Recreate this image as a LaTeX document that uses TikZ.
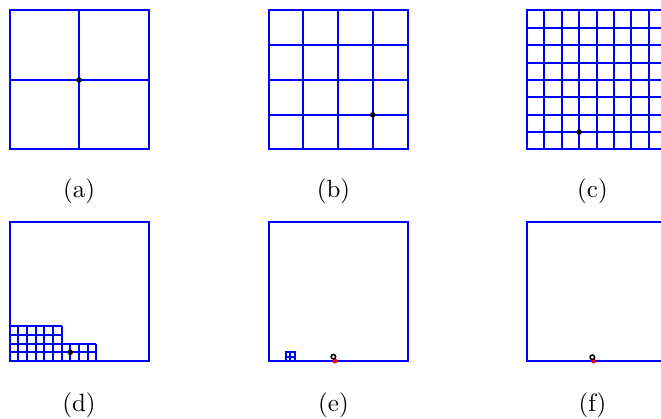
\documentclass[tikz,border=0pt]{standalone}
\usepackage{tikz}
\definecolor{gblue}{RGB}{0,0,255}
\tikzset{
  panel/.style={draw=gblue, line width=0.8pt},
  gridl/.style={draw=gblue, line width=0.8pt},
  pt/.style={fill=black},
  ring/.style={draw=black, line width=0.6pt},
  reddot/.style={fill=red},
  lab/.style={inner sep=0pt, font=\normalsize}
}
\begin{document}
\begin{tikzpicture}[x=0.4pt, y=-0.4pt]
\useasboundingbox (0,0) rectangle (661,419);
\clip (0,0) rectangle (661,419);
% (a)
\begin{scope}[shift={(9.5,149.5)}, x=55.6pt, y=55.6pt]
  \draw[gridl] (0.5,0) -- (0.5,1) (0,0.5) -- (1,0.5);
  \draw[panel] (0,0) rectangle (1,1);
  \fill[pt] (0.5,0.5) circle (1.1pt);
\end{scope}
% (b)
\begin{scope}[shift={(268.5,149.5)}, x=55.6pt, y=55.6pt]
  \foreach \i in {1,2,3} {
    \draw[gridl] (\i/4,0) -- (\i/4,1);
    \draw[gridl] (0,\i/4) -- (1,\i/4);
  }
  \draw[panel] (0,0) rectangle (1,1);
  \fill[pt] (0.75,0.25) circle (1.1pt);
\end{scope}
% (c)
\begin{scope}[shift={(527,149.5)}, x=55.6pt, y=55.6pt]
  \foreach \i in {1,...,7} {
    \draw[gridl] (\i/8,0) -- (\i/8,1);
    \draw[gridl] (0,\i/8) -- (1,\i/8);
  }
  \draw[panel] (0,0) rectangle (1,1);
  \fill[pt] (0.375,0.125) circle (1.1pt);
\end{scope}
% (d)
\begin{scope}[shift={(9.5,361)}, x=55.6pt, y=55.6pt]
  \draw[panel] (0,0) rectangle (1,1);
  \foreach \i in {1,...,6} {\draw[gridl] (\i/16,0) -- (\i/16,4/16);}
  \foreach \i in {7,...,10} {\draw[gridl] (\i/16,0) -- (\i/16,2/16);}
  \foreach \j in {1,...,4} {\draw[gridl] (0,\j/16) -- (6/16,\j/16);}
  \foreach \j in {1,2} {\draw[gridl] (6/16,\j/16) -- (10/16,\j/16);}
  \fill[pt] (0.4375,0.0625) circle (1.1pt);
\end{scope}
% (e)
\begin{scope}[shift={(268.5,361)}, x=55.6pt, y=55.6pt]
  \draw[panel] (0,0) rectangle (1,1);
  \draw[gridl] (4/32,0) rectangle (6/32,2/32);
  \draw[gridl] (5/32,0) -- (5/32,2/32) (4/32,1/32) -- (6/32,1/32);
  \fill[reddot] (0.478,0.0) circle (1pt);
  \draw[ring] (0.467,0.031) circle (0.9pt);
\end{scope}
% (f)
\begin{scope}[shift={(527,361)}, x=55.6pt, y=55.6pt]
  \draw[panel] (0,0) rectangle (1,1);
  \fill[reddot] (0.479,0.0) circle (1pt);
  \draw[ring] (0.47,0.027) circle (0.9pt);
\end{scope}
% labels
\node[lab] (la) at (79,191) {(a)};
\node[lab] (lb) at (333.5,191) {(b)};
\node[lab] (lc) at (592.5,191) {(c)};
\node[lab] (ld) at (79,405) {(d)};
\node[lab] (le) at (333.5,405) {(e)};
\node[lab] (lf) at (592.5,405) {(f)};
\end{tikzpicture}
\end{document}
